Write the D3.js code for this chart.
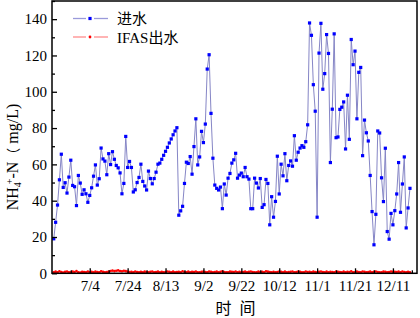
<!DOCTYPE html>
<html>
<head>
<meta charset="utf-8">
<script src="https://cdn.jsdelivr.net/npm/d3@7"></script>
<style>
  body { margin: 0; background: #fff; }
  svg { display: block; }
</style>
</head>
<body>
<div></div>
<script>
// daily samples, first one on 6/15
var startDay = new Date(2013, 5, 15);

// 进水 NH4+-N (mg/L)
var inflow = [
  19.0, 28.1, 37.6, 51.5, 65.6, 47.3, 49.9, 44.2, 53.0, 62.3, 48.4, 47.7, 37.3, 53.9, 49.7, 43.5, 46.0, 43.8, 39.1, 42.9,
  47.1, 53.5, 59.7, 48.6, 52.1, 69.0, 63.0, 61.8, 54.3, 65.9, 59.9, 67.0, 62.8, 59.4, 58.1, 55.3, 43.8, 49.5,
  75.4, 58.3, 61.6, 58.3, 44.8, 46.0, 50.0, 52.8, 60.1, 50.6, 48.1, 45.9, 56.3, 52.2, 49.3, 52.2, 55.7, 60.1, 60.7, 62.8,
  65.0, 67.2, 69.4, 71.8, 74.0, 76.3, 78.4, 80.2, 32.0, 34.4, 36.9, 49.5, 61.2, 60.5, 64.3, 54.6, 69.8, 85.1,
  59.7, 64.1, 78.2, 72.0, 82.2, 112.5, 120.4, 88.1, 63.4, 48.6, 46.8, 45.9, 47.5, 35.6, 49.2, 43.1, 52.4, 55.0, 60.7, 62.5,
  66.1, 52.4, 54.1, 55.2, 53.2, 58.3, 53.2, 51.9, 35.6, 35.6, 52.4, 49.7, 47.0, 52.2, 36.3, 37.8, 51.7, 49.5, 26.7, 42.2,
  30.9, 39.6, 64.5, 43.7, 60.1, 53.7, 65.9, 51.0, 59.4, 61.9, 59.0, 75.8, 62.3, 66.7, 69.0, 70.3, 69.4, 72.5, 81.8, 137.9,
  131.1, 103.9, 89.3, 30.9, 121.3, 137.7, 101.4, 110.0, 131.5, 121.1, 61.0, 90.4, 131.9, 74.7, 75.1, 90.3, 91.5, 94.4, 68.5, 98.1,
  73.8, 128.8, 114.9, 122.4, 85.1, 110.7, 113.4, 64.8, 84.4, 77.4, 72.9, 53.9, 34.0, 15.7, 32.5, 78.4, 77.3, 52.6, 39.5, 68.9,
  23.0, 18.8, 33.0, 26.7, 34.5, 43.7, 61.0, 33.6, 49.2, 64.1, 25.0, 36.0, 46.8
];

// IFAS出水 NH4+-N (mg/L)
var outflow = [
  0.6, 0.9, 0.5, 1.1, 0.7, 0.4, 0.8, 1.0, 0.6, 0.5, 0.9, 0.7, 1.2, 0.6, 0.4, 0.8, 0.7, 0.5, 1.0, 0.6,
  0.8, 0.5, 0.9, 0.7, 0.6, 1.1, 0.8, 0.5, 0.7, 0.9, 1.3, 1.5, 1.2, 1.4, 1.6, 1.3, 1.1, 1.4, 1.2, 0.9,
  0.7, 0.8, 0.6, 1.0, 0.7, 0.5, 0.8, 0.6, 0.9, 0.7, 0.5, 0.8, 1.0, 0.6, 0.7, 0.9, 0.5, 0.8, 0.6, 0.7,
  1.0, 0.8, 0.6, 0.9, 0.5, 0.7, 0.8, 0.6, 1.1, 0.7, 0.5, 0.9, 0.6, 0.8, 0.7, 1.0, 0.6, 0.5, 0.8, 0.9,
  0.7, 0.6, 1.0, 0.8, 0.5, 0.7, 0.9, 0.6, 0.8, 1.1, 0.7, 0.5, 0.6, 0.9, 0.8, 0.7, 1.0, 0.6, 0.8, 0.5,
  0.7, 0.9, 0.6, 0.8, 1.0, 0.7, 0.5, 0.6, 0.9, 0.7, 0.8, 0.6, 1.1, 0.9, 0.7, 0.5, 0.8, 0.6, 0.7, 1.0,
  0.8, 0.6, 0.9, 0.5, 0.7, 0.8, 1.0, 0.6, 0.7, 0.9, 0.8, 0.5, 0.6, 1.0, 0.7, 0.8, 0.6, 0.9, 0.7, 0.5,
  0.8, 1.0, 0.7, 0.6, 0.9, 0.5, 0.8, 0.7, 0.6, 1.0, 0.8, 0.7, 0.5, 0.9, 0.6, 0.8, 0.7, 1.1, 0.6, 0.5,
  0.9, 0.7, 0.6, 1.0, 0.8, 0.5, 0.7, 0.9, 0.6, 0.8, 1.0, 0.7, 0.6, 0.5, 0.9, 0.8, 0.6, 0.7, 1.0, 0.8,
  0.8, 0.7, 0.9, 0.6, 1.0, 0.7, 0.5, 0.8, 0.6
];

var xTickLabels = ["7/4", "7/24", "8/13", "9/2", "9/22", "10/12", "11/1", "11/21", "12/11"];
var yTicks = [0, 20, 40, 60, 80, 100, 120, 140];
var seriesNames = ["进水", "IFAS出水"];

var W = 420, H = 318;
var margin = {top: 1, right: 3, bottom: 44.7, left: 52},
    width = W - margin.left - margin.right,
    height = H - margin.top - margin.bottom;

var serif = "'Liberation Serif', 'Times New Roman', serif";
var cjk = "'Noto Sans CJK SC', sans-serif";

function parseMD(s) {
  var p = s.split("/");
  return new Date(2013, +p[0] - 1, +p[1]);
}
var majorDates = xTickLabels.map(parseMD);
var minorDates = majorDates.map(function(d) { return d3.timeDay.offset(d, -10); });
minorDates.push(d3.timeDay.offset(majorDates[majorDates.length - 1], 10));

var x = d3.scaleTime()
    .domain([new Date(2013, 5, 14, 2), new Date(2013, 11, 23, 17)])
    .range([0, width]);
var y = d3.scaleLinear().domain([0, 150]).range([height, 0]);

var svg = d3.select("div").append("svg")
    .attr("width", W)
    .attr("height", H);
var g = svg.append("g")
    .attr("transform", "translate(" + margin.left + "," + margin.top + ")");

function dateOf(i) { return d3.timeDay.offset(startDay, i); }

var line = d3.line()
    .x(function(d, i) { return x(dateOf(i)); })
    .y(function(d) { return y(d); });

// red series (drawn first, sits at the bottom)
g.append("path")
    .datum(outflow)
    .attr("fill", "none")
    .attr("stroke", "#ff7070")
    .attr("stroke-width", 1)
    .attr("d", line);
g.selectAll(".dotOut")
    .data(outflow)
    .enter().append("circle")
    .attr("class", "dotOut")
    .attr("cx", function(d, i) { return x(dateOf(i)); })
    .attr("cy", function(d) { return y(d); })
    .attr("r", 1.3)
    .style("fill", "#ff0000");

// blue series
g.append("path")
    .datum(inflow)
    .attr("fill", "none")
    .attr("stroke", "#8686c6")
    .attr("stroke-width", 1)
    .attr("d", line);
g.selectAll(".dotIn")
    .data(inflow)
    .enter().append("rect")
    .attr("class", "dotIn")
    .attr("x", function(d, i) { return x(dateOf(i)) - 1.6; })
    .attr("y", function(d) { return y(d) - 1.6; })
    .attr("width", 3.2)
    .attr("height", 3.2)
    .style("fill", "#0000ff");

// axes: ticks point inward
var xMajor = g.append("g")
    .attr("transform", "translate(0," + height + ")")
    .call(d3.axisBottom(x).tickValues(majorDates)
      .tickFormat(function(d, i) { return xTickLabels[i]; })
      .tickSizeInner(-5).tickSizeOuter(0).tickPadding(7));
var xMinor = g.append("g")
    .attr("transform", "translate(0," + height + ")")
    .call(d3.axisBottom(x).tickValues(minorDates).tickFormat("")
      .tickSizeInner(-3).tickSizeOuter(0));
var yMajor = g.append("g")
    .call(d3.axisLeft(y).tickValues(yTicks)
      .tickSizeInner(-5).tickSizeOuter(0).tickPadding(5));
var yMinor = g.append("g")
    .call(d3.axisLeft(y).tickValues(yTicks.map(function(v) { return v + 10; })).tickFormat("")
      .tickSizeInner(-3).tickSizeOuter(0));

[xMajor, xMinor, yMajor, yMinor].forEach(function(a) {
  a.select(".domain").remove();
  a.selectAll("line").attr("stroke", "#000").attr("stroke-width", 1.3);
  a.selectAll("text")
    .style("font-family", serif)
    .style("font-size", "15px")
    .attr("fill", "#000");
});

// frame
g.append("rect")
    .attr("width", width)
    .attr("height", height)
    .attr("fill", "none")
    .attr("stroke", "#000")
    .attr("stroke-width", 1.5);

// legend
var legend = g.append("g").attr("class", "legend");
var legendRows = [
  {name: seriesNames[0], line: "#9a9ada", mark: "#0000ff", sq: true, yy: 17.5},
  {name: seriesNames[1], line: "#ff8c8c", mark: "#ff0000", sq: false, yy: 36}
];
legendRows.forEach(function(r) {
  legend.append("line").attr("x1", 21).attr("x2", 34).attr("y1", r.yy).attr("y2", r.yy)
    .attr("stroke", r.line).attr("stroke-width", 1.3);
  legend.append("line").attr("x1", 42).attr("x2", 56).attr("y1", r.yy).attr("y2", r.yy)
    .attr("stroke", r.line).attr("stroke-width", 1.3);
  if (r.sq) {
    legend.append("rect").attr("x", 36.4).attr("y", r.yy - 1.6).attr("width", 3.2).attr("height", 3.2)
      .style("fill", r.mark);
  } else {
    legend.append("circle").attr("cx", 38).attr("cy", r.yy).attr("r", 1.4).style("fill", r.mark);
  }
  var t = legend.append("text")
    .attr("x", 65)
    .attr("y", r.yy + 5.5)
    .style("font-size", "15px")
    .style("font-family", cjk);
  var m = r.name.match(/^([A-Za-z]*)(.*)$/);
  if (m[1]) t.append("tspan").style("font-family", serif).text(m[1]);
  t.append("tspan").text(m[2]);
});

// x label
svg.append("text")
    .attr("x", 223.5).attr("y", 314)
    .attr("text-anchor", "middle")
    .style("font-family", cjk).style("font-size", "16px")
    .text("时");
svg.append("text")
    .attr("x", 247.5).attr("y", 314)
    .attr("text-anchor", "middle")
    .style("font-family", cjk).style("font-size", "16px")
    .text("间");

// y label  NH4+-N（ mg/L)
var yl = svg.append("text")
    .attr("transform", "translate(18,157) rotate(-90)")
    .attr("text-anchor", "middle")
    .style("font-family", serif)
    .style("font-size", "16px");
yl.append("tspan").text("NH");
yl.append("tspan").attr("dy", 3).style("font-size", "10px").text("4");
yl.append("tspan").attr("dy", -8).attr("dx", -2).style("font-size", "10px").text("+");
yl.append("tspan").attr("dy", 5).text("-N");
yl.append("tspan").style("font-family", cjk).style("font-size", "14px").text("（");
yl.append("tspan").text(" mg/L)");
</script>
</body>
</html>
